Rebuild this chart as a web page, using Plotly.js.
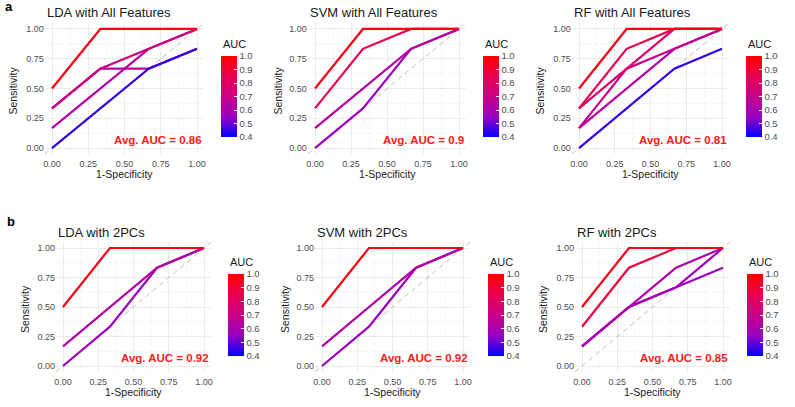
<!DOCTYPE html>
<html>
<head>
<meta charset="utf-8">
<script src="https://cdn.plot.ly/plotly-3.0.1.min.js"></script>
<style>html,body{margin:0;padding:0;background:#fff;}#chart{width:795px;height:407px;}</style>
</head>
<body>
<div id="chart"></div>
<script>
// ---- data ----
const fpr = [0, 0.333, 0.667, 1];
const xTicks = [0, 0.25, 0.5, 0.75, 1];
const aucTicks = [0.4, 0.5, 0.6, 0.7, 0.8, 0.9, 1.0];

const panelTitles = ["LDA with All Features", "SVM with All Features", "RF with All Features",
                     "LDA with 2PCs", "SVM with 2PCs", "RF with 2PCs"];
const avgAuc = ["0.86", "0.9", "0.81", "0.92", "0.92", "0.85"];

const ldaAllTpr = [[0.333, 0.667, 0.667, 0.833], [0.167, 0.5, 0.833, 1], [0.333, 0.667, 0.833, 1], [0, 0.333, 0.667, 0.833], [0.5, 1, 1, 1]];
const ldaAllAuc = [0.64, 0.64, 0.72, 0.45, 0.96];

const svmAllTpr = [[0, 0.333, 0.833, 1], [0.167, 0.5, 0.833, 1], [0.333, 0.833, 1, 1], [0.5, 1, 1, 1]];
const svmAllAuc = [0.56, 0.64, 0.86, 0.96];

const rfAllTpr = [[0, 0.333, 0.667, 0.833], [0.167, 0.5, 0.833, 1], [0.167, 0.667, 0.833, 1], [0.333, 0.667, 1, 1], [0.333, 0.833, 1, 1], [0.5, 1, 1, 1]];
const rfAllAuc = [0.45, 0.64, 0.69, 0.78, 0.86, 0.96];

const lda2Tpr = [[0, 0.333, 0.833, 1], [0.167, 0.5, 0.833, 1], [0.5, 1, 1, 1]];
const lda2Auc = [0.56, 0.63, 0.96];

const svm2Tpr = [[0, 0.333, 0.833, 1], [0.167, 0.5, 0.833, 1], [0.5, 1, 1, 1]];
const svm2Auc = [0.56, 0.63, 0.96];

const rf2Tpr = [[0.167, 0.5, 0.667, 0.833], [0.167, 0.5, 0.667, 1], [0.167, 0.5, 0.833, 1], [0.333, 0.833, 1, 1], [0.5, 1, 1, 1]];
const rf2Auc = [0.55, 0.58, 0.62, 0.88, 0.96];

const panelTpr = [ldaAllTpr, svmAllTpr, rfAllTpr, lda2Tpr, svm2Tpr, rf2Tpr];
const panelAuc = [ldaAllAuc, svmAllAuc, rfAllAuc, lda2Auc, svm2Auc, rf2Auc];

// ---- styling ----
const W = 795, H = 407;
const cs = [[0, '#0000FF'], [0.25, '#9A00C2'], [0.5, '#C90088'], [0.75, '#E8004F'], [1, '#FF0000']];
function hex2rgb(h){return [parseInt(h.slice(1,3),16),parseInt(h.slice(3,5),16),parseInt(h.slice(5,7),16)];}
function aucColor(v){
  let t = Math.max(0, Math.min(1, (v - 0.4) / 0.6));
  for (let i = 0; i < cs.length - 1; i++) {
    if (t <= cs[i+1][0]) {
      const f = (t - cs[i][0]) / (cs[i+1][0] - cs[i][0]);
      const a = hex2rgb(cs[i][1]), b = hex2rgb(cs[i+1][1]);
      return 'rgb(' + a.map((c,j)=>Math.round(c + (b[j]-c)*f)).join(',') + ')';
    }
  }
  return cs[cs.length-1][1];
}

// pixel geometry of panels: [left, right, top, bottom]
const boxes = [
  [44.75, 204.25, 23, 154], [307.8, 466.2, 23, 154], [571.85, 729.15, 23, 154],
  [55.95, 211.05, 242.1, 371.9], [314.95, 470.05, 242.1, 371.9], [574.95, 730.05, 242.1, 371.9]
];
const cbars = [ // [left px, top px, bottom px]
  [221, 56, 137], [483, 56, 137], [746, 56, 137],
  [228, 274, 356], [488, 274, 356], [747, 274, 356]
];
const sensX = [13, 278, 540, 25, 285, 543];
const specY = [174, 174, 174, 392, 392, 392];

const FONT = 'Liberation Sans, Arial, sans-serif';
const traces = [];
const layout = {
  width: W, height: H, margin: {l:0, r:0, t:0, b:0},
  paper_bgcolor: '#fff', plot_bgcolor: '#fff',
  showlegend: false, font: {family: FONT, color: '#4D4D4D'},
  annotations: []
};

for (let k = 0; k < 6; k++) {
  const n = k + 1;
  const xa = 'x' + (n === 1 ? '' : n), ya = 'y' + (n === 1 ? '' : n);
  const [L, R, T, B] = boxes[k];
  const axBase = {
    range: [-0.05, 1.05], showline: false, zeroline: false, ticks: '',
    tickvals: xTicks, tickformat: '.2f', tickfont: {size: 9, color: '#4D4D4D', family: FONT},
    showgrid: true, gridcolor: '#EBEBEB', gridwidth: 1,
    minor: {tickvals: [0.125, 0.375, 0.625, 0.875], showgrid: true, gridcolor: '#F4F4F4', gridwidth: 0.6},
    fixedrange: true
  };
  layout['xaxis' + (n === 1 ? '' : n)] = Object.assign({}, axBase, {
    domain: [L / W, R / W], anchor: ya, ticklabelstandoff: 3
  });
  layout['yaxis' + (n === 1 ? '' : n)] = Object.assign({}, axBase, {
    domain: [(H - B) / H, (H - T) / H], anchor: xa
  });

  // diagonal reference
  traces.push({type: 'scatter', mode: 'lines', x: [-0.05, 1.05], y: [-0.05, 1.05],
    xaxis: xa, yaxis: ya, line: {color: '#BDBDBD', width: 1, dash: '5px,4px'}, hoverinfo: 'skip'});

  // ROC curves
  panelTpr[k].forEach((tpr, i) => {
    traces.push({type: 'scatter', mode: 'lines', x: fpr, y: tpr, xaxis: xa, yaxis: ya,
      line: {color: aucColor(panelAuc[k][i]), width: 2.2}, hoverinfo: 'skip'});
  });

  // colorbar carrier
  const ca = 'coloraxis' + (n === 1 ? '' : n);
  traces.push({type: 'scatter', mode: 'markers', x: [0.5], y: [0.5], xaxis: xa, yaxis: ya,
    marker: {color: [0.4], coloraxis: ca, size: 1, opacity: 0}, hoverinfo: 'skip'});
  const [cl, ct, cb] = cbars[k];
  layout[ca] = {
    cmin: 0.4, cmax: 1.0, colorscale: cs,
    colorbar: {
      x: cl / W, xanchor: 'left', xpad: 0, y: (H - (ct + cb) / 2) / H, yanchor: 'middle', ypad: 0,
      len: cb - ct, lenmode: 'pixels', thickness: 16, thicknessmode: 'pixels',
      outlinewidth: 0, ticks: 'inside', ticklen: 3, tickcolor: '#FFFFFF', tickwidth: 1,
      tickvals: aucTicks, tickformat: '.1f', tickfont: {size: 9.5, color: '#4D4D4D', family: FONT},
      title: {text: ''}
    }
  };

  // texts
  layout.annotations.push({xref: 'paper', yref: 'paper', x: L / W, y: 1 - ((k < 3 ? 12 : 232)) / H,
    xanchor: 'left', yanchor: 'middle', showarrow: false, text: panelTitles[k],
    font: {size: 13, color: '#1A1A1A', family: FONT}});
  layout.annotations.push({xref: 'paper', yref: 'paper', x: cl / W, y: 1 - (ct - 12) / H,
    xanchor: 'left', yanchor: 'middle', showarrow: false, text: 'AUC',
    font: {size: 11, color: '#1A1A1A', family: FONT}});
  layout.annotations.push({xref: 'paper', yref: 'paper', x: sensX[k] / W, y: 1 - ((T + B) / 2 + 2) / H,
    xanchor: 'center', yanchor: 'middle', showarrow: false, text: 'Sensitivity', textangle: -90,
    font: {size: 10.5, color: '#1A1A1A', family: FONT}});
  layout.annotations.push({xref: 'paper', yref: 'paper', x: ((L + R) / 2) / W, y: 1 - specY[k] / H,
    xanchor: 'center', yanchor: 'middle', showarrow: false, text: '1-Specificity',
    font: {size: 10.5, color: '#1A1A1A', family: FONT}});
  layout.annotations.push({xref: xa, yref: ya, x: 1.05, y: 0.07,
    xanchor: 'right', yanchor: 'middle', showarrow: false, text: '<b>Avg. AUC = ' + avgAuc[k] + '</b>',
    font: {size: 11.5, color: '#FF1A1A', family: FONT}});
}

layout.annotations.push({xref: 'paper', yref: 'paper', x: 3 / W, y: 1 - 7 / H, xanchor: 'left', yanchor: 'middle',
  showarrow: false, text: '<b>a</b>', font: {size: 13, color: '#000', family: FONT}});
layout.annotations.push({xref: 'paper', yref: 'paper', x: 5 / W, y: 1 - 222 / H, xanchor: 'left', yanchor: 'middle',
  showarrow: false, text: '<b>b</b>', font: {size: 13, color: '#000', family: FONT}});

Plotly.newPlot('chart', traces, layout, {staticPlot: true, displayModeBar: false});
</script>
</body>
</html>
